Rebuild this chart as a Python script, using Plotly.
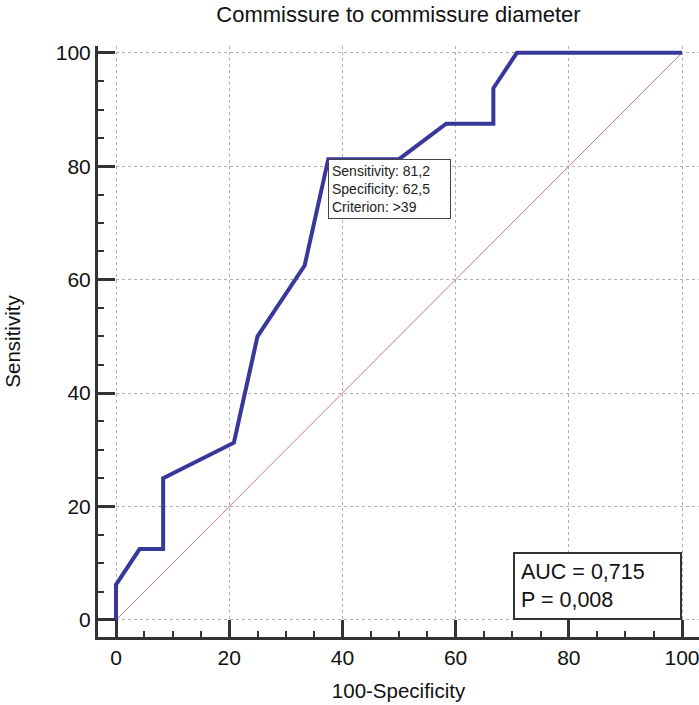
import plotly.graph_objects as go

# ROC curve points (100-Specificity, Sensitivity)
fpr = [0, 0, 4.17, 8.33, 8.33, 20.83, 25, 33.33, 37.5, 50, 58.33, 66.67, 66.67, 70.83, 100]
sens = [0, 6.25, 12.5, 12.5, 25, 31.25, 50, 62.5, 81.25, 81.25, 87.5, 87.5, 93.75, 100, 100]
diag = [0, 100]
ticks = [0, 20, 40, 60, 80, 100]
tick_labels = ["0", "20", "40", "60", "80", "100"]
criterion_point = (37.5, 81.25)
criterion_text = "Sensitivity: 81,2<br>Specificity: 62,5<br>Criterion: >39"
auc_text = "AUC = 0,715<br>P = 0,008"

FONT = "Liberation Sans, Arial, sans-serif"
AX = "#333333"

fig = go.Figure()
fig.add_trace(go.Scatter(x=diag, y=diag, mode="lines",
                         line=dict(color="#c47c7c", width=1), hoverinfo="skip"))
fig.add_trace(go.Scatter(x=fpr, y=sens, mode="lines",
                         line=dict(color="#38389c", width=4)))

axis_common = dict(
    showline=True, linewidth=3, linecolor=AX,
    ticks="inside", ticklen=17, tickwidth=2.5, tickcolor=AX,
    tickvals=ticks, ticktext=tick_labels,
    tickfont=dict(family=FONT, size=21, color="#111"),
    showgrid=True, gridcolor="#b0b0b0", gridwidth=1, griddash="dot",
    zeroline=False, mirror=False, ticklabeloverflow="allow",
    minor=dict(dtick=5, ticks="inside", ticklen=6, tickwidth=1.5, tickcolor=AX, showgrid=False),
)

fig.update_xaxes(range=[-3.18, 103], title=dict(text="100-Specificity", font=dict(family=FONT, size=20.5, color="#111"), standoff=16), **axis_common)
fig.update_yaxes(range=[-3.0, 101.2], title=dict(text="Sensitivity", font=dict(family=FONT, size=20.5, color="#111"), standoff=30), **axis_common)

fig.add_annotation(x=criterion_point[0], y=criterion_point[1], xref="x", yref="y",
                   text=criterion_text, showarrow=False, xanchor="left", yanchor="top",
                   align="left", font=dict(family=FONT, size=14, color="#222"),
                   bgcolor="white", bordercolor="#444", borderwidth=1, borderpad=3, width=115)
fig.add_annotation(x=100, y=0, xref="x", yref="y",
                   text=auc_text, showarrow=False, xanchor="right", yanchor="bottom",
                   align="left", font=dict(family=FONT, size=21.5, color="#111"),
                   bgcolor="white", bordercolor="#333", borderwidth=2, borderpad=6, width=153)

fig.update_layout(
    width=699, height=705,
    margin=dict(l=98, r=0, t=46, b=68),
    paper_bgcolor="white", plot_bgcolor="white",
    showlegend=False,
    title=dict(text="Commissure to commissure diameter", x=0.5, xref="paper",
               y=0.98, yref="container", yanchor="middle",
               font=dict(family=FONT, size=22, color="#111")),
)

fig.write_html("out.html")
